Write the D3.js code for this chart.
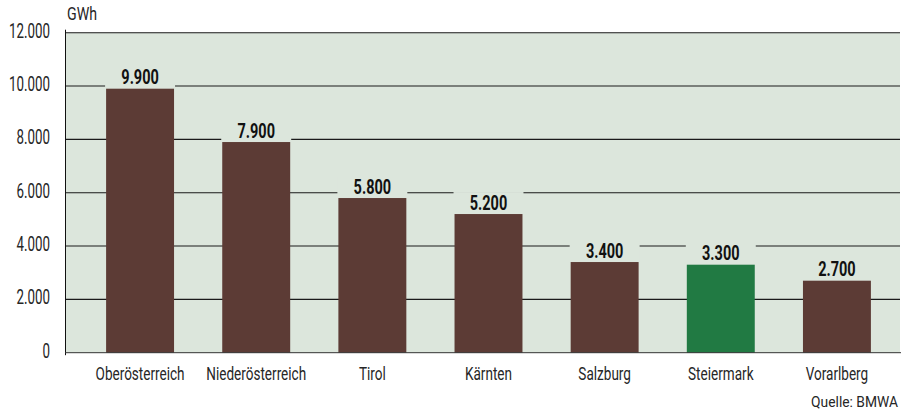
<!DOCTYPE html>
<html><head><meta charset="utf-8">
<script src="https://cdn.jsdelivr.net/npm/d3@7"></script>
<style>
body{margin:0;background:#fff;}
text{font-family:Roboto,"DejaVu Sans",sans-serif;}
</style></head>
<body><svg id="c" width="902" height="414"></svg>
<script>
const categories = ["Oberösterreich","Niederösterreich","Tirol","Kärnten","Salzburg","Steiermark","Vorarlberg"];
const values = [9900,7900,5800,5200,3400,3300,2700];
const highlight = ["Steiermark"];
const yTicks = [0,2000,4000,6000,8000,10000,12000];
const unit = "GWh";
const source = "Quelle: BMWA";

const svg = d3.select("#c");
const pL = 65, pR = 900, pT = 32.7, pB = 352.7;
const bg = "#dce6dc";
const ink = "#262626";
const fmt = v => v === 0 ? "0" : d3.format(",")(v).replace(/,/g, ".");

// condense a selection of texts: factor from a reference text width
function condense(sel, refNode, targetW) {
  const f = targetW / refNode.getComputedTextLength();
  sel.each(function () {
    const w = this.getComputedTextLength();
    d3.select(this).attr("textLength", w * f).attr("lengthAdjust", "spacingAndGlyphs");
  });
}

const x = d3.scaleBand().domain(categories).range([82, 895]).paddingInner(0.415).paddingOuter(0.2075);
const y = d3.scaleLinear().domain([0, 12000]).range([pB, pT]);

svg.append("rect").attr("x", pL).attr("y", pT).attr("width", pR - pL).attr("height", pB - pT).attr("fill", bg);

// grid
svg.append("g").selectAll("line").data(yTicks.filter(d => d > 0)).join("line")
  .attr("x1", pL).attr("x2", pR).attr("y1", d => y(d)).attr("y2", d => y(d))
  .attr("stroke", "#1a1a1a").attr("stroke-width", 1.1);

// label backgrounds
const bw = x.bandwidth();
svg.append("g").selectAll("rect").data(values).join("rect")
  .attr("x", (d, i) => x(categories[i]) - 1).attr("width", bw + 2)
  .attr("y", d => y(d) - 22).attr("height", 21).attr("fill", bg);

// bars
svg.append("g").selectAll("rect").data(values).join("rect")
  .attr("x", (d, i) => x(categories[i])).attr("width", bw)
  .attr("y", d => y(d)).attr("height", d => y(0) - y(d))
  .attr("fill", (d, i) => highlight.includes(categories[i]) ? "#217a43" : "#5c3b35");

// value labels
const vl = svg.append("g").selectAll("text").data(values).join("text")
  .attr("x", (d, i) => x(categories[i]) + bw / 2).attr("y", d => y(d) - 4.5)
  .attr("text-anchor", "middle").attr("font-size", 20).attr("font-weight", "bold").attr("fill", "#111")
  .text(d => fmt(d));
condense(vl, vl.nodes()[2], 37.5);

// axes
const yAxis = d3.axisLeft(y).tickValues(yTicks).tickSize(0).tickPadding(15).tickFormat(fmt);
const gy = svg.append("g").attr("transform", `translate(${pL},0)`).call(yAxis);
gy.select(".domain").remove();
const yt = gy.selectAll("text").attr("font-size", 19.5).attr("fill", ink).attr("dy", null).attr("y", 4.5)
  .attr("font-family", "Roboto,'DejaVu Sans',sans-serif");
condense(yt, yt.nodes()[6], 41);

svg.append("line").attr("x1", pL + 0.5).attr("x2", pL + 0.5).attr("y1", pT - 3).attr("y2", pB + 2.5).attr("stroke", "#111").attr("stroke-width", 1);
svg.append("line").attr("x1", pL).attr("x2", pR + 1).attr("y1", pB).attr("y2", pB).attr("stroke", "#333").attr("stroke-width", 1);

const xAxis = d3.axisBottom(x).tickSize(0).tickPadding(0);
const gx = svg.append("g").attr("transform", `translate(0,${pB})`).call(xAxis);
gx.select(".domain").remove();
const xt = gx.selectAll("text").attr("font-size", 18).attr("fill", ink).attr("dy", null).attr("y", 27.5)
  .attr("font-family", "Roboto,'DejaVu Sans',sans-serif");
condense(xt, xt.nodes()[0], 89);

const gwh = svg.append("text").attr("x", 67).attr("y", 20).attr("font-size", 18).attr("fill", ink).text(unit);
condense(gwh, gwh.node(), 30);
const src = svg.append("text").attr("x", 0).attr("y", 0).attr("text-anchor", "end").attr("font-size", 15.5).attr("fill", ink).text(source);
const sf = 87 / src.node().getComputedTextLength();
src.attr("transform", `translate(898,407) scale(${sf},1)`);
</script></body></html>
